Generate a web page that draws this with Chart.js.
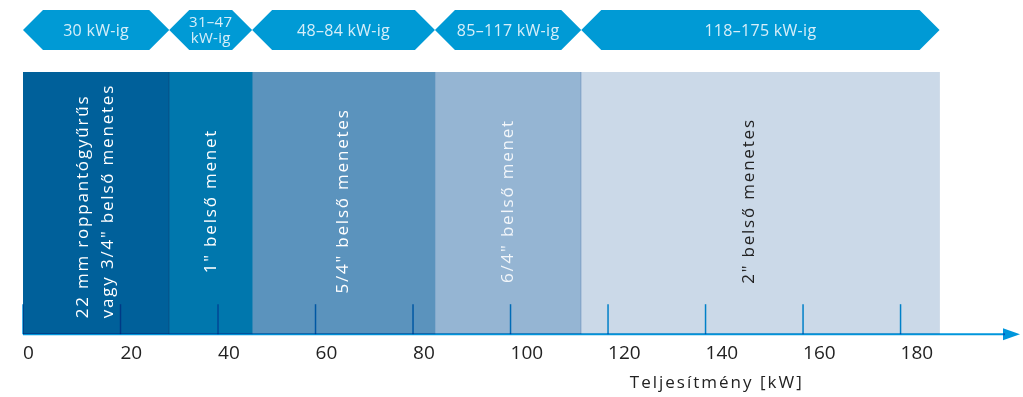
<!DOCTYPE html>
<html>
<head>
<meta charset="utf-8">
<script src="https://cdn.jsdelivr.net/npm/chart.js@4/dist/chart.umd.min.js"></script>
<style>
html, body { margin: 0; padding: 0; background: #fff; }
</style>
</head>
<body>
<canvas id="chart" width="1023" height="397"></canvas>
<script>
// kW ranges of the connection types
const bandStart = [0, 30, 47, 84.5, 114.5];
const bandEnd = [30, 47, 84.5, 114.5, 188];
const bandLabels = [
    ['22 mm roppantógyűrűs', 'vagy 3/4" belső menetes'],
    ['1" belső menet'],
    ['5/4" belső menetes'],
    ['6/4" belső menet'],
    ['2" belső menetes']
];
const rangeLabels = [['30 kW-ig'], ['31–47', 'kW-ig'], ['48–84 kW-ig'], ['85–117 kW-ig'], ['118–175 kW-ig']];
const tickValues = [0, 20, 40, 60, 80, 100, 120, 140, 160, 180];
const axisMax = 204.5;
const axisTitle = 'Teljesítmény [kW]';

const bandColors = ['#00609a', '#0077ad', '#5b93bd', '#95b5d3', '#cbd9e8'];
const bandBorders = ['#0b4a7e', null, null, '#7398bf', null];
const labelColors = ['#ffffff', '#ffffff', '#ffffff', '#f2f6fa', '#222222'];
const labelNudge = [0, 0, 0, 0, -11];

const bandPlugin = {
    id: 'bands',
    afterDatasetsDraw(chart) {
        const { ctx, chartArea: a, scales: { x } } = chart;
        ctx.save();
        // vertical band labels
        ctx.font = "17px 'Open Sans'";
        ctx.letterSpacing = '1.8px';
        ctx.textBaseline = 'middle';
        bandLabels.forEach((lines, i) => {
            const cx = (x.getPixelForValue(bandStart[i]) + x.getPixelForValue(bandEnd[i])) / 2 + labelNudge[i];
            const multi = lines.length > 1;
            ctx.save();
            ctx.translate(cx, multi ? a.bottom - 16 : 201);
            ctx.rotate(-Math.PI / 2);
            ctx.textAlign = multi ? 'left' : 'center';
            ctx.fillStyle = labelColors[i];
            lines.forEach((t, j) => ctx.fillText(t, 0, (j - (lines.length - 1) / 2) * 25));
            ctx.restore();
        });
        // tick marks and axis
        ctx.globalCompositeOperation = 'multiply';
        ctx.strokeStyle = '#0096dc';
        ctx.fillStyle = '#0096dc';
        ctx.lineWidth = 1.5;
        tickValues.forEach(v => {
            const px = x.getPixelForValue(v);
            ctx.beginPath();
            ctx.moveTo(px, a.bottom - 30);
            ctx.lineTo(px, a.bottom);
            ctx.stroke();
        });
        ctx.lineWidth = 2;
        ctx.beginPath();
        ctx.moveTo(a.left, a.bottom);
        ctx.lineTo(a.right - 15, a.bottom);
        ctx.stroke();
        ctx.beginPath();
        ctx.moveTo(a.right, a.bottom);
        ctx.lineTo(a.right - 17, a.bottom - 6);
        ctx.lineTo(a.right - 17, a.bottom + 6);
        ctx.closePath();
        ctx.fill();
        ctx.restore();
    },
    afterDraw(chart) {
        const { ctx, scales: { x } } = chart;
        ctx.save();
        // range arrows on top
        const top = 10, bot = 50, mid = 30, s = 20;
        rangeLabels.forEach((lines, i) => {
            const xs = x.getPixelForValue(bandStart[i]);
            const xe = x.getPixelForValue(bandEnd[i]);
            ctx.fillStyle = '#009ad5';
            ctx.beginPath();
            ctx.moveTo(xs, mid);
            ctx.lineTo(xs + s, top);
            ctx.lineTo(xe - s, top);
            ctx.lineTo(xe, mid);
            ctx.lineTo(xe - s, bot);
            ctx.lineTo(xs + s, bot);
            ctx.closePath();
            ctx.fill();
            ctx.fillStyle = '#d6eef9';
            ctx.textAlign = 'center';
            ctx.textBaseline = 'middle';
            ctx.letterSpacing = '0.3px';
            ctx.font = lines.length > 1 ? "15px 'Open Sans'" : "16px 'Open Sans'";
            lines.forEach((t, j) => ctx.fillText(t, (xs + xe) / 2, mid + 1 + (j - (lines.length - 1) / 2) * 16));
        });
        // axis title
        ctx.fillStyle = '#222';
        ctx.font = "17px 'Open Sans'";
        ctx.letterSpacing = '2px';
        ctx.textAlign = 'center';
        ctx.textBaseline = 'alphabetic';
        ctx.fillText(axisTitle, x.getPixelForValue(142.3), 388);
        ctx.restore();
    }
};

new Chart(document.getElementById('chart'), {
    type: 'bar',
    data: {
        labels: [''],
        datasets: bandStart.map((s, i) => ({
            label: bandLabels[i].join(' '),
            data: [[s, bandEnd[i]]],
            backgroundColor: bandColors[i],
            borderColor: bandBorders[i] || bandColors[i],
            borderWidth: bandBorders[i] ? { right: 1, left: 0, top: 0, bottom: 0 } : 0,
            borderSkipped: false,
            barPercentage: 1,
            categoryPercentage: 1,
            grouped: false
        }))
    },
    options: {
        indexAxis: 'y',
        responsive: false,
        animation: false,
        layout: { padding: { top: 72, left: 23, right: 3, bottom: 24 } },
        plugins: { legend: { display: false }, tooltip: { enabled: false } },
        scales: {
            x: {
                type: 'linear',
                min: 0,
                max: axisMax,
                grid: { display: false, drawTicks: false },
                border: { display: false },
                afterBuildTicks: scale => { scale.ticks = tickValues.map(v => ({ value: v })); },
                ticks: { align: 'start', padding: 8, color: '#222', font: { family: 'Open Sans', size: 19 } }
            },
            y: { display: false }
        }
    },
    plugins: [bandPlugin]
});
</script>
</body>
</html>
